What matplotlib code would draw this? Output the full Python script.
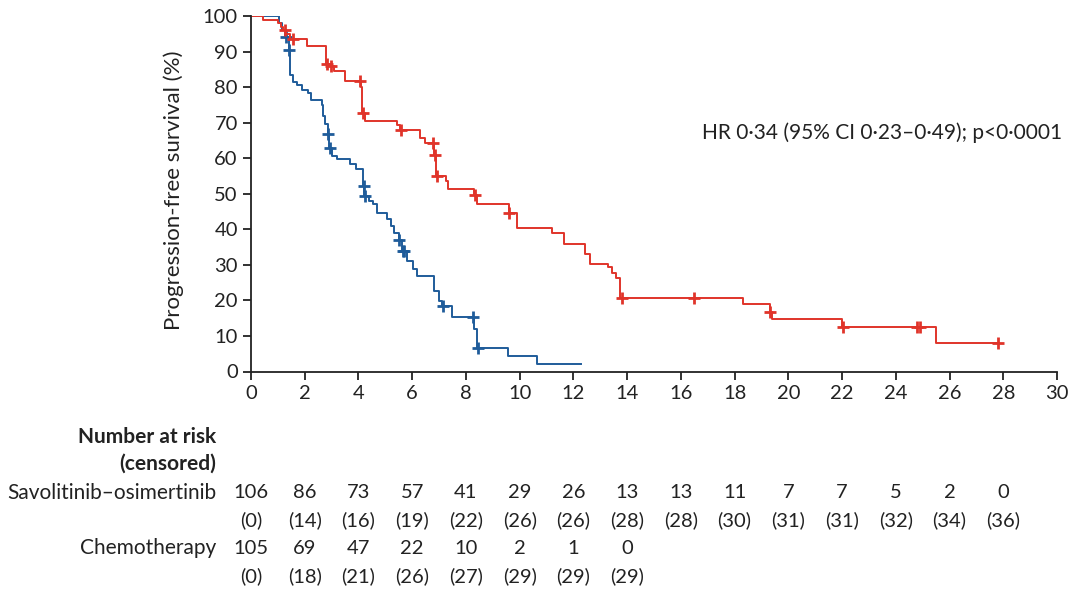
import matplotlib
matplotlib.use('Agg')
import matplotlib.pyplot as plt
import matplotlib.transforms as mtransforms
import numpy as np

plt.rcParams['font.family'] = ['Lato', 'DejaVu Sans']

# Kaplan-Meier steps (months, % progression-free)
red_t = [0, 0.45, 1.0, 1.1, 1.2, 1.3, 1.45, 2.1, 2.8, 2.95, 3.1, 3.5, 4.1, 4.15, 4.25,
         5.45, 5.55, 6.3, 6.47, 6.8, 6.88, 7.25, 7.35, 8.3, 8.4, 9.6, 9.9, 11.2, 11.65,
         12.45, 12.6, 13.3, 13.45, 13.6, 13.75, 18.3, 19.3, 19.4, 22.0, 25.5]
red_s = [100, 99, 98, 97, 96, 95, 93.5, 91.6, 86.5, 86, 84.5, 81.8, 80, 72.6, 70.6,
         69.2, 67.8, 65.8, 64.2, 61, 55, 53.7, 51.2, 49.7, 47, 44.5, 40.4, 39, 36,
         33, 30.3, 29.4, 27.7, 26.3, 20.7, 18.9, 16.8, 14.7, 12.4, 7.9]
red_end = 27.8
red_cens = [1.27, 1.55, 2.82, 2.97, 4.05, 4.18, 5.58, 6.79, 6.85, 6.93, 8.32, 9.62,
            13.8, 16.5, 19.33, 22.05, 24.8, 24.9, 27.8]

blue_t = [0, 1.05, 1.15, 1.25, 1.4, 1.47, 1.57, 1.7, 1.88, 2.13, 2.25, 2.63, 2.69, 2.77,
          2.85, 2.92, 3.0, 3.19, 3.7, 3.9, 4.17, 4.22, 4.4, 4.53, 4.68, 5.06, 5.2, 5.32,
          5.5, 5.62, 5.8, 6.02, 6.17, 6.8, 6.99, 7.12, 7.47, 8.3, 8.4, 9.55, 10.63]
blue_s = [100, 98, 96, 94, 90.5, 83.3, 81.5, 80.5, 79.3, 78.2, 76.3, 74.9, 72, 69.7,
          66.9, 63, 60.7, 59.8, 58.5, 57, 52.3, 49.5, 48, 47, 44.6, 43, 41, 39,
          37, 34, 31, 28.8, 27, 22.6, 19.8, 18.4, 15.3, 12, 6.7, 4.5, 2]
blue_end = 12.3
blue_cens = [1.3, 1.43, 2.87, 2.95, 4.19, 4.24, 5.52, 5.65, 5.68, 7.14, 8.25, 8.45]

risk_times = [0, 2, 4, 6, 8, 10, 12, 14, 16, 18, 20, 22, 24, 26, 28]
savo_risk = [106, 86, 73, 57, 41, 29, 26, 13, 13, 11, 7, 7, 5, 2, 0]
savo_cens = [0, 14, 16, 19, 22, 26, 26, 28, 28, 30, 31, 31, 32, 34, 36]
chemo_risk = [105, 69, 47, 22, 10, 2, 1, 0]
chemo_cens = [0, 18, 21, 26, 27, 29, 29, 29]

red = '#e0342a'
blue = '#1f5c9a'
dark = '#222222'
fs_num = 14.5
fs_txt = 15


def km(ax, t, s, end, cens, color):
    tt = list(t) + [end]
    ss = list(s) + [s[-1]]
    ax.step(tt, ss, where='post', color=color, lw=1.4)
    idx = np.searchsorted(t, cens, side='right') - 1
    ax.plot(cens, np.array(s)[idx], '+', color=color, ms=9, mew=2, ls='none')


fig = plt.figure(figsize=(10.8, 5.94), dpi=100)
ax = fig.add_axes([251 / 1080, 1 - 371.5 / 594, (1057 - 251) / 1080, (371.5 - 16) / 594])

km(ax, blue_t, blue_s, blue_end, blue_cens, blue)
km(ax, red_t, red_s, red_end, red_cens, red)

ax.set_xlim(0, 30)
ax.set_ylim(0, 100)
ax.set_xticks(range(0, 31, 2))
ax.set_yticks(range(0, 101, 10))
ax.spines['top'].set_visible(False)
ax.spines['right'].set_visible(False)
for sp in ['left', 'bottom']:
    ax.spines[sp].set_color(dark)
    ax.spines[sp].set_linewidth(1.3)
ax.tick_params(direction='out', length=5.5, width=1.3, color=dark, labelcolor=dark,
               labelsize=fs_num, pad=4)

fig.text(174 / 1080, 1 - 190 / 594, 'Progression-free survival (%)', rotation=90,
         ha='center', va='center', fontsize=16, color=dark)
fig.text(1062 / 1080, 1 - 133 / 594, 'HR 0·34 (95% CI 0·23–0·49); p<0·0001',
         ha='right', va='center', fontsize=fs_txt, color=dark)

# number at risk table
tr = mtransforms.blended_transform_factory(ax.transData, fig.transFigure)
lab_x = 216 / 1080
rows_y = [437, 464, 493, 520, 548, 576]
fig.text(lab_x, 1 - rows_y[0] / 594, 'Number at risk', ha='right', va='center',
         fontsize=fs_txt, fontweight='bold', color=dark)
fig.text(lab_x, 1 - rows_y[1] / 594, '(censored)', ha='right', va='center',
         fontsize=fs_txt, fontweight='bold', color=dark)
fig.text(lab_x, 1 - rows_y[2] / 594, 'Savolitinib–osimertinib', ha='right', va='center',
         fontsize=fs_txt, color=dark)
fig.text(lab_x, 1 - rows_y[4] / 594, 'Chemotherapy', ha='right', va='center',
         fontsize=fs_txt, color=dark)

for t, n, c in zip(risk_times, savo_risk, savo_cens):
    ax.text(t, 1 - rows_y[2] / 594, str(n), transform=tr, ha='center', va='center',
            fontsize=fs_num, color=dark, clip_on=False)
    ax.text(t, 1 - rows_y[3] / 594, '(%d)' % c, transform=tr, ha='center', va='center',
            fontsize=fs_num, color=dark, clip_on=False)
for t, n, c in zip(risk_times, chemo_risk, chemo_cens):
    ax.text(t, 1 - rows_y[4] / 594, str(n), transform=tr, ha='center', va='center',
            fontsize=fs_num, color=dark, clip_on=False)
    ax.text(t, 1 - rows_y[5] / 594, '(%d)' % c, transform=tr, ha='center', va='center',
            fontsize=fs_num, color=dark, clip_on=False)

fig.savefig('out.png', dpi=100)
